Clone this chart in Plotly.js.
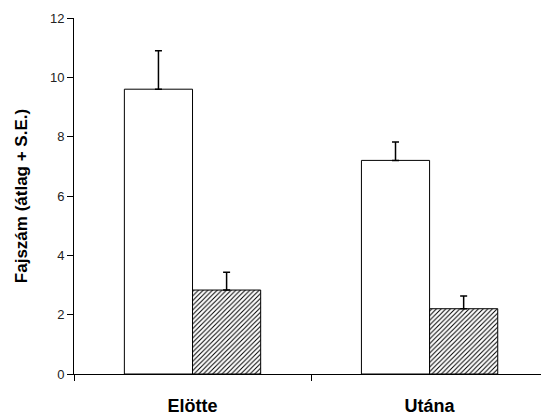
<!DOCTYPE html>
<html><head><meta charset="utf-8">
<script src="https://cdn.plot.ly/plotly-3.0.1.min.js"></script>
<style>body{margin:0;background:#fff}#c{width:541px;height:419px}</style>
</head><body><div id="c"></div>
<script>
const categories = ["Elötte", "Utána"];
const seriesA = [9.6, 7.2];
const seriesAErr = [1.3, 0.62];
const seriesB = [2.83, 2.2];
const seriesBErr = [0.6, 0.43];
const yTicks = [0, 2, 4, 6, 8, 10, 12];

const err = (a) => ({type: "data", array: a, arrayminus: a.map(() => 0), symmetric: false, color: "#000", thickness: 1.5, width: 3.5});

const data = [
  {type: "bar", x: categories, y: seriesA, error_y: err(seriesAErr),
   marker: {color: "#fff", line: {color: "#000", width: 1}}, name: "A"},
  {type: "bar", x: categories, y: seriesB, error_y: err(seriesBErr),
   marker: {color: "#fff", line: {color: "#000", width: 1},
     pattern: {shape: "/", fgcolor: "#000", bgcolor: "#fff", size: 3.3, solidity: 0.3}}, name: "B"}
];

const layout = {
  width: 541, height: 419,
  margin: {l: 74, r: 0, t: 18, b: 45},
  paper_bgcolor: "#fff", plot_bgcolor: "#fff",
  showlegend: false,
  barmode: "group", bargap: 0.425, bargroupgap: 0,
  font: {family: "Liberation Sans, Arial, sans-serif", color: "#000"},
  xaxis: {type: "category", range: [-0.5, 1.47], showline: true, linecolor: "#000", linewidth: 1,
    ticks: "outside", tickson: "boundaries", ticklen: 6, tickcolor: "#000", showgrid: false, zeroline: false,
    ticklabelstandoff: 15,
    tickfont: {size: 18, family: "Liberation Sans, Arial, sans-serif", weight: "bold"}, fixedrange: true},
  yaxis: {range: [0, 12], tickvals: yTicks, showline: true, linecolor: "#000", linewidth: 1,
    ticks: "outside", ticklen: 6, tickcolor: "#000", showgrid: false, zeroline: false,
    tickfont: {size: 13, color: "#222"},
    title: {text: "Fajszám (átlag + S.E.)", font: {size: 17, weight: "bold"}, standoff: 17}}
};
Plotly.newPlot("c", data, layout, {displayModeBar: false, staticPlot: true});
</script></body></html>
